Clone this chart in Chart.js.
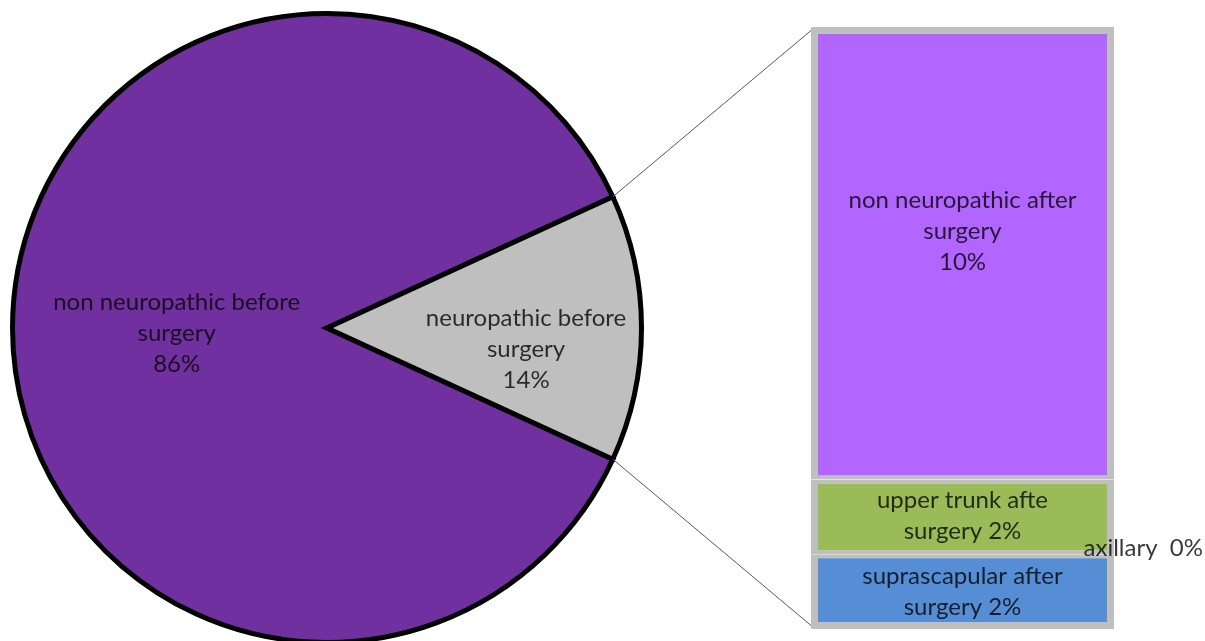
<!DOCTYPE html>
<html><head><meta charset="utf-8">
<script src="https://cdn.jsdelivr.net/npm/chart.js@4.4.1/dist/chart.umd.min.js"></script>
<style>
html,body{margin:0;padding:0;width:1205px;height:641px;overflow:hidden;background:#fff;}
canvas{position:absolute;left:0;top:0;}
</style></head><body>
<canvas id="pie" width="1205" height="660"></canvas>
<canvas id="bar" width="1205" height="641"></canvas>
<script>
// ---- data ----
const pieCategories = ["non neuropathic before surgery", "neuropathic before surgery"];
const pieValues = [86.3, 13.7];
const pieLabelLines = [["non neuropathic before", "surgery", "{p}"], ["neuropathic before", "surgery", "{p}"]];

const barCategories = ["suprascapular after surgery", "axillary", "upper trunk afte surgery", "non neuropathic after surgery"];
const barValues = [1.7, 0, 1.7, 10.3];
const barLabelLines = [["suprascapular after", "surgery {p}"], ["axillary  {p}"], ["upper trunk afte", "surgery {p}"], ["non neuropathic after", "surgery", "{p}"]];

// ---- styles ----
const FONT = '24px Lato';
const TEXT_COLOR = 'rgba(0,0,0,0.78)';
const LINE_H = 31;
const pieColors = ['#7030A0', '#BFBFBF'];
const pieLabelPos = [{k: 0.478, dx: 0, dy: 5}, {k: 0.633, dx: 0, dy: 21}];
const barColors = ['#558ED5', '#F79646', '#9BBB59', '#B266FF'];
const barBorders = [
  {top: 4, bottom: 7, left: 7, right: 7},
  0,
  {top: 4, bottom: 4, left: 7, right: 7},
  {top: 7, bottom: 4, left: 7, right: 7}
];
const barLabelPos = [
  {align: 'center', dx: 0, dy: 0},
  {align: 'right', dx: 89, dy: -6, fromRight: true},
  {align: 'center', dx: 0, dy: -1},
  {align: 'center', dx: 0, dy: -22}
];

function pct(v) { return Math.round(v) + '%'; }
function drawLines(ctx, lines, v, x, cy, align) {
  ctx.save();
  ctx.font = FONT;
  ctx.fillStyle = TEXT_COLOR;
  ctx.textAlign = align;
  ctx.textBaseline = 'middle';
  const n = lines.length;
  lines.forEach((ln, j) => {
    ctx.fillText(ln.replace('{p}', pct(v)), x, cy + (j - (n - 1) / 2) * LINE_H);
  });
  ctx.restore();
}

const pieTotal = pieValues.reduce((a, b) => a + b, 0);
const pieLabelPlugin = {
  id: 'pieLabels',
  afterDatasetsDraw(chart) {
    const arcs = chart.getDatasetMeta(0).data;
    arcs.forEach((arc, i) => {
      const mid = (arc.startAngle + arc.endAngle) / 2;
      const p = pieLabelPos[i];
      const x = arc.x + Math.cos(mid) * arc.outerRadius * p.k + p.dx;
      const y = arc.y + Math.sin(mid) * arc.outerRadius * p.k + p.dy;
      drawLines(chart.ctx, pieLabelLines[i], pieValues[i], x, y, 'center');
    });
  }
};

const pieChart = new Chart(document.getElementById('pie'), {
  type: 'pie',
  data: {
    labels: pieCategories,
    datasets: [{
      data: pieValues,
      backgroundColor: pieColors,
      borderColor: '#000000',
      borderWidth: 5,
      borderJoinStyle: 'miter',
      borderAlign: 'center'
    }]
  },
  options: {
    responsive: false,
    animation: false,
    events: [],
    rotation: 90 + (pieValues[1] / pieTotal) * 180,
    layout: {padding: {left: 10, right: 561, top: 11, bottom: 15}},
    plugins: {legend: {display: false}, tooltip: {enabled: false}}
  },
  plugins: [pieLabelPlugin]
});

const barLabelPlugin = {
  id: 'barLabels',
  afterDraw(chart) {
    const ctx = chart.ctx;
    // connector lines from the pie's grey slice to the bar
    const grey = pieChart.getDatasetMeta(0).data[1];
    const top = chart.getDatasetMeta(barCategories.length - 1).data[0];
    const bottom = chart.getDatasetMeta(0).data[0];
    const left = top.x - top.width / 2;
    ctx.save();
    ctx.strokeStyle = '#595959';
    ctx.lineWidth = 1;
    ctx.beginPath();
    ctx.moveTo(grey.x + Math.cos(grey.startAngle) * grey.outerRadius, grey.y + Math.sin(grey.startAngle) * grey.outerRadius);
    ctx.lineTo(left, top.y + 3.5);
    ctx.moveTo(grey.x + Math.cos(grey.endAngle) * grey.outerRadius, grey.y + Math.sin(grey.endAngle) * grey.outerRadius);
    ctx.lineTo(left, bottom.base - 3.5);
    ctx.stroke();
    ctx.restore();
    barCategories.forEach((c, i) => {
      const bar = chart.getDatasetMeta(i).data[0];
      const p = barLabelPos[i];
      const x = (p.fromRight ? bar.x + bar.width / 2 : bar.x) + p.dx;
      const y = (bar.y + bar.base) / 2 + p.dy;
      drawLines(ctx, barLabelLines[i], barValues[i], x, y, p.align);
    });
  }
};

const barChart = new Chart(document.getElementById('bar'), {
  type: 'bar',
  data: {
    labels: ['after surgery'],
    datasets: barCategories.map((c, i) => ({
      label: c,
      data: [barValues[i]],
      backgroundColor: barColors[i],
      borderColor: '#BFBFBF',
      borderWidth: barBorders[i],
      borderSkipped: false,
      inflateAmount: 0,
      barPercentage: 1,
      categoryPercentage: 1
    }))
  },
  options: {
    responsive: false,
    animation: false,
    events: [],
    layout: {padding: {left: 811, right: 91, top: 27, bottom: 12}},
    scales: {
      x: {display: false, stacked: true},
      y: {display: false, stacked: true, min: 0, max: barValues.reduce((a, b) => a + b, 0)}
    },
    plugins: {legend: {display: false}, tooltip: {enabled: false}}
  },
  plugins: [barLabelPlugin]
});
</script>
</body></html>
